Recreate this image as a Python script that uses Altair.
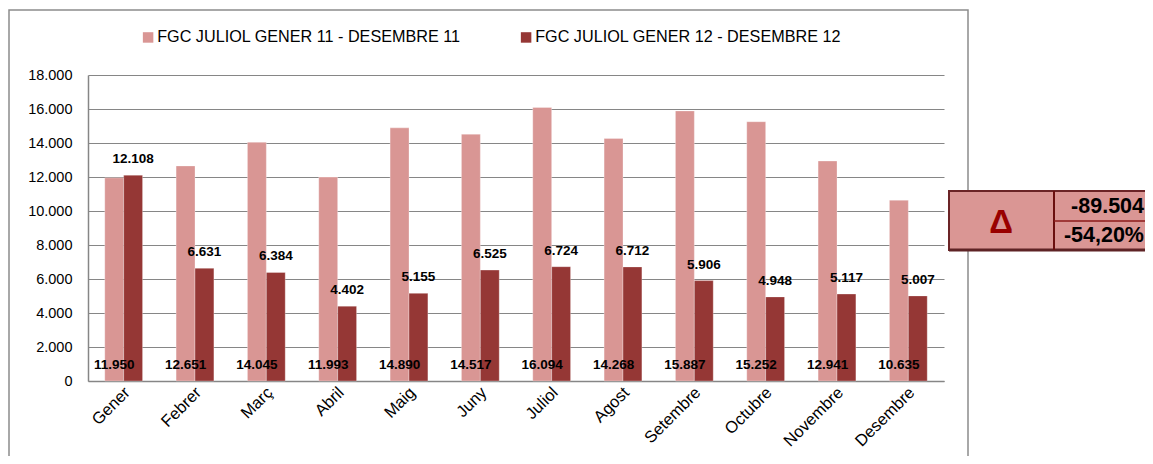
import altair as alt
import pandas as pd

months = ["Gener", "Febrer", "Març", "Abril", "Maig", "Juny", "Juliol",
          "Agost", "Setembre", "Octubre", "Novembre", "Desembre"]
series_names = ["FGC JULIOL GENER 11 - DESEMBRE 11", "FGC JULIOL GENER 12 - DESEMBRE 12"]
values_2011 = [11950, 12651, 14045, 11993, 14890, 14517, 16094, 14268, 15887, 15252, 12941, 10635]
values_2012 = [12108, 6631, 6384, 4402, 5155, 6525, 6724, 6712, 5906, 4948, 5117, 5007]
y_ticks = list(range(0, 18001, 2000))
delta_abs = "-89.504"
delta_pct = "-54,20%"
colors = ["#D99694", "#953735"]

FONT = "Liberation Sans"

rows = []
for m, a, b in zip(months, values_2011, values_2012):
    rows.append({"month": m, "series": series_names[0], "value": a})
    rows.append({"month": m, "series": series_names[1], "value": b})
df = pd.DataFrame(rows)
df["label"] = df["value"].map(lambda v: f"{v:,}".replace(",", "."))

W, H = 856, 306

x_enc = alt.X("month:N", sort=months, title=None,
              scale=alt.Scale(paddingInner=0.47, paddingOuter=0.235),
              axis=alt.Axis(labelAngle=315, labelAlign="right", labelBaseline="top",
                            labelFont=FONT, labelFontSize=16.5, labelColor="#000000",
                            labelPadding=3, labelOffset=-2, ticks=False, domainColor="#868686",
                            domainWidth=1.5, grid=False, labelLimit=0))
xo = alt.XOffset("series:N", sort=series_names, scale=alt.Scale(paddingInner=0, paddingOuter=0))
y_enc = alt.Y("value:Q", title=None,
              scale=alt.Scale(domain=[0, 18000], nice=False),
              axis=alt.Axis(values=y_ticks, tickCount=12, labelOverlap=False,
                            labelExpr="replace(format(datum.value, ','), ',', '.')",
                            labelFont=FONT, labelFontSize=14.5, labelColor="#000000",
                            labelPadding=16, ticks=False, domainColor="#868686",
                            domainWidth=1.5, gridColor="#868686", gridWidth=1.2))

base = alt.Chart(df)

bars = base.mark_bar(stroke="#ffffff", strokeWidth=0.6, strokeOpacity=0.5).encode(
    x=x_enc, xOffset=xo, y=y_enc,
    color=alt.Color("series:N", sort=series_names,
                    scale=alt.Scale(domain=series_names, range=colors),
                    legend=alt.Legend(title=None, orient="none", direction="horizontal",
                                      legendX=52, legendY=-46, symbolType="square",
                                      symbolSize=110, symbolStrokeWidth=0,
                                      labelFont=FONT, labelFontSize=16.2, labelColor="#000000",
                                      labelOffset=1, columnPadding=57, labelLimit=0)),
)

lab11 = base.transform_filter(alt.datum.series == series_names[0]).transform_calculate(
    zero="0"
).mark_text(
    font=FONT, fontSize=13.5, fontWeight="bold", color="#000000", baseline="middle", dy=-16
).encode(x=x_enc, xOffset=xo, y=alt.Y("zero:Q", scale=alt.Scale(domain=[0, 18000], nice=False)),
         text="label:N")

lab12 = base.transform_filter(alt.datum.series == series_names[1]).mark_text(
    font=FONT, fontSize=13.5, fontWeight="bold", color="#000000", baseline="middle", dy=-16
).encode(x=x_enc, xOffset=xo, y=y_enc, text="label:N")

# outer chart frame
frame = alt.Chart(pd.DataFrame({"a": [0]})).mark_rect(
    fill=None, stroke="#8c8c8c", strokeWidth=1.5
).encode(x=alt.value(-79), x2=alt.value(880), y=alt.value(-65), y2=alt.value(420))

# delta box
box_df = pd.DataFrame({"a": [0]})
box = alt.Chart(box_df).mark_rect(fill="#DA9694", stroke="#6B2426", strokeWidth=2).encode(
    x=alt.value(861), x2=alt.value(1080), y=alt.value(116), y2=alt.value(175))
box_bottom = alt.Chart(box_df).mark_rule(color="#5E2325", strokeWidth=3).encode(
    x=alt.value(861), x2=alt.value(1080), y=alt.value(175))
box_vline = alt.Chart(box_df).mark_rule(color="#6B0F0F", strokeWidth=2).encode(
    x=alt.value(966), y=alt.value(116), y2=alt.value(175))
box_hline = alt.Chart(box_df).mark_rule(color="#8B1A1A", strokeWidth=1.5).encode(
    x=alt.value(966), x2=alt.value(1080), y=alt.value(146))
delta_sym = alt.Chart(pd.DataFrame({"t": ["Δ"]})).mark_text(
    font=FONT, fontSize=33, fontWeight="bold", color="#990000", align="center", baseline="middle"
).encode(x=alt.value(913), y=alt.value(148), text="t:N")
delta_v1 = alt.Chart(pd.DataFrame({"t": [delta_abs]})).mark_text(
    font=FONT, fontSize=21.5, fontWeight="bold", color="#000000", align="right", baseline="middle"
).encode(x=alt.value(1056), y=alt.value(132), text="t:N")
delta_v2 = alt.Chart(pd.DataFrame({"t": [delta_pct]})).mark_text(
    font=FONT, fontSize=21.5, fontWeight="bold", color="#000000", align="right", baseline="middle"
).encode(x=alt.value(1056), y=alt.value(161), text="t:N")

chart = alt.layer(
    frame, bars, lab11, lab12, box, box_bottom, box_vline, box_hline, delta_sym, delta_v1, delta_v2
).resolve_scale(y="shared").properties(
    width=W, height=H,
    autosize=alt.AutoSizeParams(type="none"),
    padding={"left": 80, "top": 67, "right": 201, "bottom": 75},
    background="#ffffff",
).configure_view(stroke=None)

chart.save("out.html", embed_options={"renderer": "svg", "actions": False})
